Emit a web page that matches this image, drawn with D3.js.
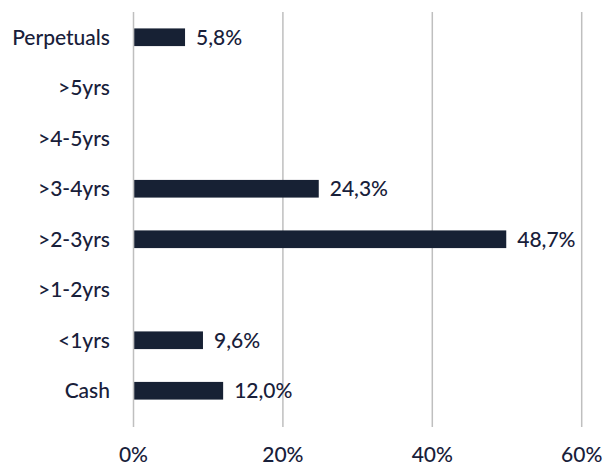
<!DOCTYPE html>
<html>
<head>
<meta charset="utf-8">
<script src="https://cdn.jsdelivr.net/npm/d3@7"></script>
<style>
  body { margin: 0; background: #fff; }
  text { font-family: Lato, "Noto Sans", sans-serif; font-weight: 500; fill: #18203a; }
</style>
</head>
<body>
<div id="chart"></div>
<script>
// categories top to bottom
var categories = ["Perpetuals", ">5yrs", ">4-5yrs", ">3-4yrs", ">2-3yrs", ">1-2yrs", "<1yrs", "Cash"];
// bar lengths as drawn (%)
var values = [6.9, 0, 0, 24.8, 49.9, 0, 9.3, 12.0];
// printed labels
var valueLabels = ["5,8%", "", "", "24,3%", "48,7%", "", "9,6%", "12,0%"];
var xTicks = [0, 20, 40, 60];

var rows = categories.map(function(c, i) {
  return { cat: c, value: values[i], label: valueLabels[i] };
});

var width = 605, height = 467;

var svg = d3.select("#chart")
  .append("svg")
    .attr("width", width)
    .attr("height", height);

var x = d3.scaleLinear()
  .domain([0, 60])
  .range([133.5, 581.7]);

var y = d3.scaleBand()
  .domain(categories)
  .range([12, 416])
  .paddingInner(0.65)
  .paddingOuter(0.325);

// gridlines
svg.append("g")
  .selectAll("line")
  .data(xTicks)
  .enter()
  .append("line")
    .attr("x1", function(d) { return x(d); })
    .attr("x2", function(d) { return x(d); })
    .attr("y1", 12)
    .attr("y2", 427)
    .attr("stroke", "#bfbfbf")
    .attr("stroke-width", 1.5);

// x tick labels
svg.append("g")
  .selectAll("text")
  .data(xTicks)
  .enter()
  .append("text")
    .attr("x", function(d) { return x(d); })
    .attr("y", 462)
    .attr("text-anchor", "middle")
    .attr("font-size", 21)
    .text(function(d) { return d + "%"; });

// bars
svg.append("g")
  .selectAll("rect")
  .data(rows)
  .enter()
  .append("rect")
    .attr("x", x(0) + 0.75)
    .attr("y", function(d) { return y(d.cat); })
    .attr("width", function(d) { return Math.max(0, x(d.value) - x(0) - 0.75); })
    .attr("height", y.bandwidth())
    .attr("fill", "#172134");

// value labels
svg.append("g")
  .selectAll("text")
  .data(rows.filter(function(d) { return d.label; }))
  .enter()
  .append("text")
    .attr("x", function(d) { return x(d.value) + 11; })
    .attr("y", function(d) { return y(d.cat) + y.bandwidth() / 2; })
    .attr("dy", "0.35em")
    .attr("font-size", 21)
    .text(function(d) { return d.label; });

// category labels
svg.append("g")
  .selectAll("text")
  .data(categories)
  .enter()
  .append("text")
    .attr("x", 110)
    .attr("y", function(d) { return y(d) + y.bandwidth() / 2; })
    .attr("dy", "0.35em")
    .attr("text-anchor", "end")
    .attr("font-size", 21)
    .text(function(d) { return d; });
</script>
</body>
</html>
